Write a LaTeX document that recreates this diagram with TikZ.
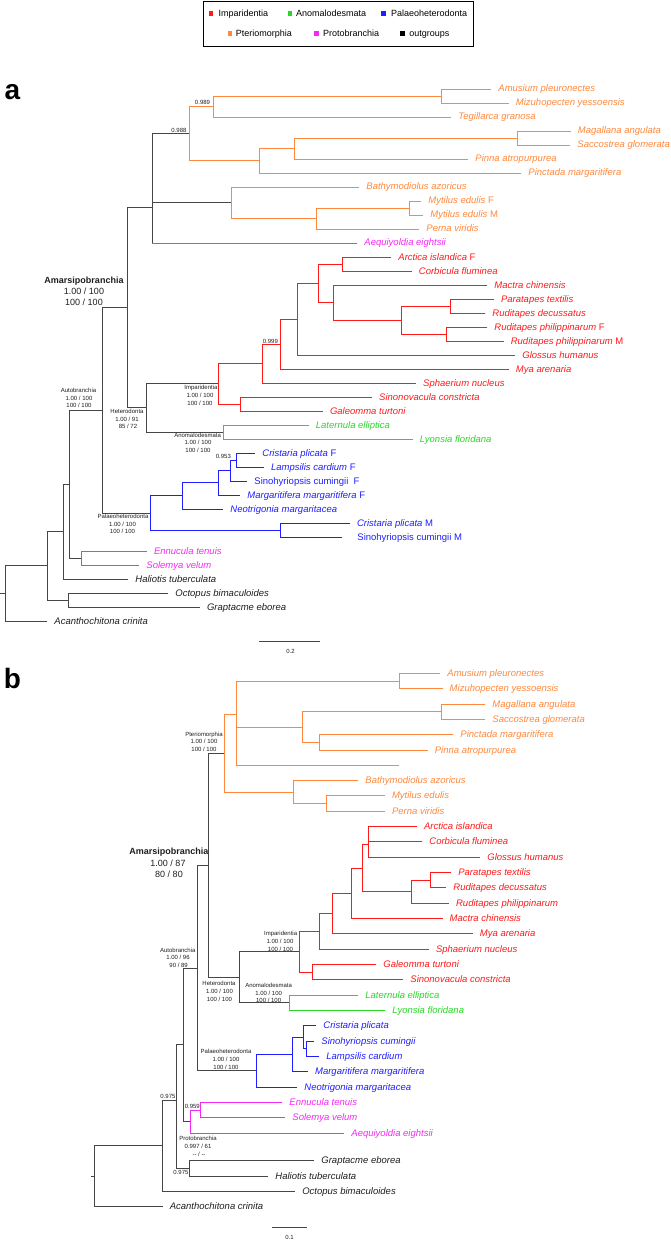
\documentclass[tikz,border=0pt]{standalone}
\usepackage{fontspec}
\setmainfont{Liberation Sans}
\definecolor{cor}{RGB}{255,136,60}
\definecolor{cre}{RGB}{255,25,25}
\definecolor{cgr}{RGB}{40,215,40}
\definecolor{cbl}{RGB}{30,30,255}
\definecolor{cma}{RGB}{245,40,245}
\definecolor{cgy}{RGB}{70,70,70}
\definecolor{cdk}{RGB}{30,30,30}
\newcommand{\tbr}[3]{\draw[#1] (#2) |- (#3);}
\newcommand{\tbrr}[4]{\draw[#1] (#3) -- (#3 |- #4);\draw[#2] (#3 |- #4) -- (#4);}
\begin{document}
\begin{tikzpicture}[x=1pt,y=-1pt,line width=0.85pt,line cap=rect,
 tip/.style={anchor=west,inner xsep=7pt,inner ysep=0pt,font=\fontsize{9.5}{11}\selectfont,text height=6pt,text depth=0pt},
 sl/.style={inner sep=0pt,font=\fontsize{6}{7}\selectfont,text height=4.3pt,text depth=0pt,text=cdk},
 bl/.style={inner sep=0pt,font=\fontsize{9}{10}\selectfont,text height=6.4pt,text depth=0pt,text=cdk},
 lg/.style={anchor=west,inner sep=0pt,font=\fontsize{9}{10}\selectfont,text height=6.5pt,text depth=0pt},
 sq/.style={inner sep=0pt,minimum size=4.5pt},
 panel/.style={anchor=base,inner sep=0pt,font=\fontsize{28}{30}\selectfont\bfseries}]
\useasboundingbox (0,0) rectangle (670,1241);

% ---------------- legend
\node[draw=black,line width=1.5pt,minimum width=270pt,minimum height=45pt,inner sep=0pt] (legend) at (338.3,24.2) {};
\node[sq,fill=cre] (sq1) at (211,13.3) {};
\node[lg] (lg1) at (218.3,13.3) {Imparidentia};
\node[sq,fill=cgr] (sq2) at (290,13.3) {};
\node[lg] (lg2) at (295.7,13.3) {Anomalodesmata};
\node[sq,fill=cbl] (sq3) at (383.3,13.3) {};
\node[lg] (lg3) at (390.7,13.3) {Palaeoheterodonta};
\node[sq,fill=cor] (sq4) at (230,33.3) {};
\node[lg] (lg4) at (235.5,33.3) {Pteriomorphia};
\node[sq,fill=cma] (sq5) at (316.7,33.3) {};
\node[lg] (lg5) at (322.7,33.3) {Protobranchia};
\node[sq,fill=black] (sq6) at (402.3,33.3) {};
\node[lg] (lg6) at (409,33.3) {outgroups};

% ---------------- panel letters
\node[panel] (pa) at (12.4,99.3) {a};
\node[panel] (pb) at (12.4,688.3) {b};

% ================= TREE A
\coordinate (aStub) at (0,593.4);
\coordinate (aroot) at (5.6,593.4);
\coordinate (aOut) at (47,565.8);
\coordinate (aOcGr) at (68.4,600);
\coordinate (aHal) at (63.2,531.5);
\coordinate (aAuto) at (69.7,484.1);
\coordinate (aProto) at (81.2,558);
\coordinate (aAmar) at (102.6,410.2);
\coordinate (aPH) at (127,307.4);
\coordinate (aPter) at (152.6,207);
\coordinate (a988) at (189.3,133.6);
\coordinate (a989) at (213.7,106.5);
\coordinate (aAmMi) at (441.5,96);
\coordinate (aOst) at (259.4,160.75);
\coordinate (aPin) at (294,148.5);
\coordinate (aMaSa) at (517,138);
\coordinate (aMyt) at (231.6,202.75);
\coordinate (aMP) at (316,218.5);
\coordinate (aMyFM) at (409.4,208);
\coordinate (aHet) at (146.6,407.9);
\coordinate (aImp) at (218.8,383.75);
\coordinate (aSiGa) at (240.6,404);
\coordinate (a999) at (262,363.5);
\coordinate (aA1) at (280,344);
\coordinate (aA2) at (297,319.1);
\coordinate (aA3) at (318.4,283.25);
\coordinate (aArCo) at (342,264);
\coordinate (aVen) at (333.3,302.5);
\coordinate (aVen2) at (401.7,320);
\coordinate (aPaRd) at (450,306);
\coordinate (aRp) at (446.6,334);
\coordinate (aAno) at (223.5,432);
\coordinate (aPal) at (150.4,513);
\coordinate (aP1) at (182.5,495.9);
\coordinate (aP2) at (218,482.75);
\coordinate (a953) at (230.8,470.5);
\coordinate (aCrLa) at (236.3,460);
\coordinate (aCrSiM) at (280.8,530);

\node[tip,text=cor] (tAmus) at (491,89) {\textit{Amusium pleuronectes}};
\node[tip,text=cor] (tMizu) at (508.5,103) {\textit{Mizuhopecten yessoensis}};
\node[tip,text=cor] (tTegi) at (451,117) {\textit{Tegillarca granosa}};
\node[tip,text=cor] (tMaga) at (570.5,131) {\textit{Magallana angulata}};
\node[tip,text=cor] (tSacc) at (570,145) {\textit{Saccostrea glomerata}};
\node[tip,text=cor] (tPinn) at (468,159) {\textit{Pinna atropurpurea}};
\node[tip,text=cor] (tPinc) at (521,173) {\textit{Pinctada margaritifera}};
\node[tip,text=cor] (tBath) at (359,187) {\textit{Bathymodiolus azoricus}};
\node[tip,text=cor] (tMyF) at (421,201) {\textit{Mytilus edulis} F};
\node[tip,text=cor] (tMyM) at (423,215) {\textit{Mytilus edulis} M};
\node[tip,text=cor] (tPern) at (419,229) {\textit{Perna viridis}};
\node[tip,text=cma] (tAequ) at (357,243) {\textit{Aequiyoldia eightsii}};
\node[tip,text=cre] (tArct) at (391,257) {\textit{Arctica islandica} F};
\node[tip,text=cre] (tCorb) at (411.5,271) {\textit{Corbicula fluminea}};
\node[tip,text=cre] (tMact) at (487,285) {\textit{Mactra chinensis}};
\node[tip,text=cre] (tPara) at (493.6,299) {\textit{Paratapes textilis}};
\node[tip,text=cre] (tRDec) at (485,313) {\textit{Ruditapes decussatus}};
\node[tip,text=cre] (tRpF) at (487,327) {\textit{Ruditapes philippinarum} F};
\node[tip,text=cre] (tRpM) at (503.4,341) {\textit{Ruditapes philippinarum} M};
\node[tip,text=cre] (tGlos) at (515,355) {\textit{Glossus humanus}};
\node[tip,text=cre] (tMya) at (508.5,369) {\textit{Mya arenaria}};
\node[tip,text=cre] (tSpha) at (415.8,383) {\textit{Sphaerium nucleus}};
\node[tip,text=cre] (tSino) at (371.8,397) {\textit{Sinonovacula constricta}};
\node[tip,text=cre] (tGale) at (322.6,411) {\textit{Galeomma turtoni}};
\node[tip,text=cgr] (tLate) at (308.5,425) {\textit{Laternula elliptica}};
\node[tip,text=cgr] (tLyon) at (412.4,439) {\textit{Lyonsia floridana}};
\node[tip,text=cbl] (tCrF) at (255,453) {\textit{Cristaria plicata} F};
\node[tip,text=cbl] (tLaF) at (263.7,467) {\textit{Lampsilis cardium} F};
\node[tip,text=cbl] (tSiF) at (247,481) {Sinohyriopsis cumingii\ \ F};
\node[tip,text=cbl] (tMaF) at (240,495) {\textit{Margaritifera margaritifera} F};
\node[tip,text=cbl] (tNeot) at (223,509) {\textit{Neotrigonia margaritacea}};
\node[tip,text=cbl] (tCrM) at (349.6,523) {\textit{Cristaria plicata} M};
\node[tip,text=cbl,inner xsep=15pt] (tSiM) at (342,537) {Sinohyriopsis cumingii M};
\node[tip,text=cma] (tEnnu) at (146.6,551) {\textit{Ennucula tenuis}};
\node[tip,text=cma] (tSole) at (139,565) {\textit{Solemya velum}};
\node[tip,text=cdk] (tHali) at (128,579) {\textit{Haliotis tuberculata}};
\node[tip,text=cdk] (tOcto) at (168,593) {\textit{Octopus bimaculoides}};
\node[tip,text=cdk] (tGrap) at (199.6,607) {\textit{Graptacme eborea}};
\node[tip,text=cdk] (tAcan) at (47,621) {\textit{Acanthochitona crinita}};

\draw[cgy] (aStub) -- (aroot);
\tbr{cgy}{aroot}{aOut} \tbr{cgy}{aroot}{tAcan.west}
\tbr{cgy}{aOut}{aHal} \tbr{cgy}{aOut}{aOcGr}
\tbr{cgy}{aOcGr}{tOcto.west} \tbr{cgy}{aOcGr}{tGrap.west}
\tbr{cgy}{aHal}{aAuto} \tbr{cgy}{aHal}{tHali.west}
\tbr{cgy}{aAuto}{aAmar} \tbr{cgy}{aAuto}{aProto}
\tbr{cma}{aProto}{tEnnu.west} \tbr{cma}{aProto}{tSole.west}
\tbr{cgy}{aAmar}{aPH} \tbr{cgy}{aAmar}{aPal}
\tbr{cgy}{aPH}{aPter} \tbr{cgy}{aPH}{aHet}
\tbr{cgy}{aPter}{a988} \tbr{cgy}{aPter}{aMyt} \tbrr{cgy}{cma}{aPter}{tAequ.west}
\tbr{cor}{a988}{a989} \tbr{cor}{a988}{aOst}
\tbr{cor}{a989}{aAmMi} \tbr{cor}{a989}{tTegi.west}
\tbr{cor}{aAmMi}{tAmus.west} \tbr{cor}{aAmMi}{tMizu.west}
\tbr{cor}{aOst}{aPin} \tbr{cor}{aOst}{tPinc.west}
\tbr{cor}{aPin}{aMaSa} \tbr{cor}{aPin}{tPinn.west}
\tbr{cor}{aMaSa}{tMaga.west} \tbr{cor}{aMaSa}{tSacc.west}
\tbr{cor}{aMyt}{tBath.west} \tbr{cor}{aMyt}{aMP}
\tbr{cor}{aMP}{aMyFM} \tbr{cor}{aMP}{tPern.west}
\tbr{cor}{aMyFM}{tMyF.west} \tbr{cor}{aMyFM}{tMyM.west}
\tbr{cgy}{aHet}{aImp} \tbr{cgy}{aHet}{aAno}
\tbr{cre}{aImp}{a999} \tbr{cre}{aImp}{aSiGa}
\tbr{cre}{aSiGa}{tSino.west} \tbr{cre}{aSiGa}{tGale.west}
\tbr{cre}{a999}{aA1} \tbr{cre}{a999}{tSpha.west}
\tbr{cre}{aA1}{aA2} \tbr{cre}{aA1}{tMya.west}
\tbr{cre}{aA2}{aA3} \tbr{cre}{aA2}{tGlos.west}
\tbr{cre}{aA3}{aArCo} \tbr{cre}{aA3}{aVen}
\tbr{cre}{aArCo}{tArct.west} \tbr{cre}{aArCo}{tCorb.west}
\tbr{cre}{aVen}{tMact.west} \tbr{cre}{aVen}{aVen2}
\tbr{cre}{aVen2}{aPaRd} \tbr{cre}{aVen2}{aRp}
\tbr{cre}{aPaRd}{tPara.west} \tbr{cre}{aPaRd}{tRDec.west}
\tbr{cre}{aRp}{tRpF.west} \tbr{cre}{aRp}{tRpM.west}
\tbr{cgr}{aAno}{tLate.west} \tbr{cgr}{aAno}{tLyon.west}
\tbr{cbl}{aPal}{aP1} \tbr{cbl}{aPal}{aCrSiM}
\tbr{cbl}{aP1}{aP2} \tbr{cbl}{aP1}{tNeot.west}
\tbr{cbl}{aP2}{a953} \tbr{cbl}{aP2}{tMaF.west}
\tbr{cbl}{a953}{aCrLa} \tbr{cbl}{a953}{tSiF.west}
\tbr{cbl}{aCrLa}{tCrF.west} \tbr{cbl}{aCrLa}{tLaF.west}
\tbr{cbl}{aCrSiM}{tCrM.west} \tbr{cbl}{aCrSiM}{tSiM.west}

% support values tree a
\node[sl] (l989) at (202.5,102.7) {0.989};
\node[sl] (l988) at (179,130.7) {0.988};
\node[sl] (l999) at (270.4,341) {0.999};
\node[sl] (l953) at (223.4,456.7) {0.953};
\node[bl,font=\fontsize{9}{10}\selectfont\bfseries] (aAm1) at (84,280) {Amarsipobranchia};
\node[bl] (aAm2) at (84,291.7) {1.00 / 100};
\node[bl] (aAm3) at (84,302.7) {100 / 100};
\node[sl] (aAu1) at (78.5,390.7) {Autobranchia};
\node[sl] (aAu2) at (79,398.2) {1.00 / 100};
\node[sl] (aAu3) at (79,405.7) {100 / 100};
\node[sl] (aHe1) at (127,411.5) {Heterodonta};
\node[sl] (aHe2) at (127,419) {1.00 / 91};
\node[sl] (aHe3) at (128,426.5) {85 / 72};
\node[sl] (aIm1) at (201,387) {Imparidentia};
\node[sl] (aIm2) at (200,395.2) {1.00 / 100};
\node[sl] (aIm3) at (200,403.3) {100 / 100};
\node[sl] (aAn1) at (197.6,435) {Anomalodesmata};
\node[sl] (aAn2) at (198,442.7) {1.00 / 100};
\node[sl] (aAn3) at (198,450.7) {100 / 100};
\node[sl] (aPa1) at (123,516.7) {Palaeoheterodonta};
\node[sl] (aPa2) at (122.5,524.2) {1.00 / 100};
\node[sl] (aPa3) at (122.5,531.7) {100 / 100};

% scale bar a
\coordinate (sa1) at (259.4,641.7);
\coordinate (sa2) at (319.7,641.7);
\draw[cgy] (sa1) -- (sa2);
\node[sl] (sal) at (290.6,651) {0.2};

% ================= TREE B
\coordinate (bStub) at (91,1176.2);
\coordinate (bRoot) at (94.9,1176.2);
\coordinate (bMoll2) at (162.4,1145.7);
\coordinate (bMoll) at (176,1100);
\coordinate (bGrHa) at (189.3,1168.35);
\coordinate (bAuto) at (183,1044.9);
\coordinate (bProto) at (190.7,1121.7);
\coordinate (bEnSo) at (200,1110.2);
\coordinate (bAmar) at (197.4,968);
\coordinate (bPH) at (208,865.2);
\coordinate (bPter) at (224.4,753);
\coordinate (bPect) at (236.3,714);
\coordinate (bAmMi) at (399.6,681);
\coordinate (bOst) at (302.6,727);
\coordinate (bMaSa) at (441.5,711.65);
\coordinate (bPiPi) at (319.7,742.3);
\coordinate (bEmpty) at (398.3,765.3);
\coordinate (bMyt) at (293.6,792.1);
\coordinate (bMyPe) at (326,803.6);
\coordinate (bHet) at (239.3,977.35);
\coordinate (bImp) at (299.1,951.8);
\coordinate (bGaSi) at (312,972.25);
\coordinate (bV4) at (319.7,931.4);
\coordinate (bV3) at (332.5,913.6);
\coordinate (bV2) at (351.7,893.3);
\coordinate (bV1) at (362,868);
\coordinate (bArCoGl) at (368.4,844);
\coordinate (bVenA) at (411,891.8);
\coordinate (bPaRd) at (430.8,880.25);
\coordinate (bAno) at (289.7,1002.9);
\coordinate (bPal) at (256.4,1070.9);
\coordinate (bUn) at (292.7,1054.65);
\coordinate (bCr) at (303.4,1037.4);
\coordinate (bSiLa) at (306.8,1048.9);

\node[tip,text=cor] (bAmus) at (440,673.3) {\textit{Amusium pleuronectes}};
\node[tip,text=cor] (bMizu) at (442.3,688.6) {\textit{Mizuhopecten yessoensis}};
\node[tip,text=cor] (bMaga) at (485,704) {\textit{Magallana angulata}};
\node[tip,text=cor] (bSacc) at (485,719.3) {\textit{Saccostrea glomerata}};
\node[tip,text=cor] (bPinc) at (453,734.6) {\textit{Pinctada margaritifera}};
\node[tip,text=cor] (bPinn) at (427.4,750) {\textit{Pinna atropurpurea}};
\node[tip,text=cor] (bBath) at (358,780.6) {\textit{Bathymodiolus azoricus}};
\node[tip,text=cor] (bMyti) at (384.6,795.9) {\textit{Mytilus edulis}};
\node[tip,text=cor] (bPern) at (384.6,811.3) {\textit{Perna viridis}};
\node[tip,text=cre] (bArct) at (416.7,826.6) {\textit{Arctica islandica}};
\node[tip,text=cre] (bCorb) at (422,841.9) {\textit{Corbicula fluminea}};
\node[tip,text=cre] (bGlos) at (480,857.3) {\textit{Glossus humanus}};
\node[tip,text=cre] (bPara) at (450.9,872.6) {\textit{Paratapes textilis}};
\node[tip,text=cre] (bRDec) at (446,887.9) {\textit{Ruditapes decussatus}};
\node[tip,text=cre] (bRPhi) at (448.7,903.3) {\textit{Ruditapes philippinarum}};
\node[tip,text=cre] (bMact) at (442.3,918.6) {\textit{Mactra chinensis}};
\node[tip,text=cre] (bMya) at (472.5,933.9) {\textit{Mya arenaria}};
\node[tip,text=cre] (bSpha) at (428.6,949.2) {\textit{Sphaerium nucleus}};
\node[tip,text=cre] (bGale) at (376,964.6) {\textit{Galeomma turtoni}};
\node[tip,text=cre] (bSino) at (403,979.9) {\textit{Sinonovacula constricta}};
\node[tip,text=cgr] (bLate) at (358,995.2) {\textit{Laternula elliptica}};
\node[tip,text=cgr] (bLyon) at (385,1010.6) {\textit{Lyonsia floridana}};
\node[tip,text=cbl] (bCris) at (316,1025.9) {\textit{Cristaria plicata}};
\node[tip,text=cbl] (bSinh) at (314,1041.2) {\textit{Sinohyriopsis cumingii}};
\node[tip,text=cbl] (bLamp) at (319,1056.6) {\textit{Lampsilis cardium}};
\node[tip,text=cbl] (bMarg) at (307.7,1071.9) {\textit{Margaritifera margaritifera}};
\node[tip,text=cbl] (bNeot) at (297,1087.2) {\textit{Neotrigonia margaritacea}};
\node[tip,text=cma] (bEnnu) at (282,1102.5) {\textit{Ennucula tenuis}};
\node[tip,text=cma] (bSole) at (285,1117.9) {\textit{Solemya velum}};
\node[tip,text=cma] (bAequ) at (344,1133.2) {\textit{Aequiyoldia eightsii}};
\node[tip,text=cdk] (bGrap) at (314,1160.7) {\textit{Graptacme eborea}};
\node[tip,text=cdk] (bHali) at (268,1176) {\textit{Haliotis tuberculata}};
\node[tip,text=cdk] (bOcto) at (294.9,1191.4) {\textit{Octopus bimaculoides}};
\node[tip,text=cdk] (bAcan) at (162.4,1206.7) {\textit{Acanthochitona crinita}};

\draw[cgy] (bStub) -- (bRoot);
\tbr{cgy}{bRoot}{bMoll2} \tbr{cgy}{bRoot}{bAcan.west}
\tbr{cgy}{bMoll2}{bMoll} \tbr{cgy}{bMoll2}{bOcto.west}
\tbr{cgy}{bMoll}{bAuto} \tbr{cgy}{bMoll}{bGrHa}
\tbr{cgy}{bGrHa}{bGrap.west} \tbr{cgy}{bGrHa}{bHali.west}
\tbr{cgy}{bAuto}{bAmar} \tbr{cgy}{bAuto}{bProto}
\tbr{cma}{bProto}{bEnSo} \tbr{cma}{bProto}{bAequ.west}
\tbr{cma}{bEnSo}{bEnnu.west} \tbr{cma}{bEnSo}{bSole.west}
\tbr{cgy}{bAmar}{bPH} \tbr{cgy}{bAmar}{bPal}
\tbr{cgy}{bPH}{bPter} \tbr{cgy}{bPH}{bHet}
\tbr{cor}{bPter}{bPect} \tbr{cor}{bPter}{bMyt}
\tbr{cor}{bPect}{bAmMi} \tbr{cor}{bPect}{bOst} \tbr{cor}{bPect}{bEmpty}
\tbr{cor}{bAmMi}{bAmus.west} \tbr{cor}{bAmMi}{bMizu.west}
\tbr{cor}{bOst}{bMaSa} \tbr{cor}{bOst}{bPiPi}
\tbr{cor}{bMaSa}{bMaga.west} \tbr{cor}{bMaSa}{bSacc.west}
\tbr{cor}{bPiPi}{bPinc.west} \tbr{cor}{bPiPi}{bPinn.west}
\tbr{cor}{bMyt}{bBath.west} \tbr{cor}{bMyt}{bMyPe}
\tbr{cor}{bMyPe}{bMyti.west} \tbr{cor}{bMyPe}{bPern.west}
\tbr{cgy}{bHet}{bImp} \tbr{cgy}{bHet}{bAno}
\tbr{cre}{bImp}{bV4} \tbr{cre}{bImp}{bGaSi}
\tbr{cre}{bGaSi}{bGale.west} \tbr{cre}{bGaSi}{bSino.west}
\tbr{cre}{bV4}{bV3} \tbr{cre}{bV4}{bSpha.west}
\tbr{cre}{bV3}{bV2} \tbr{cre}{bV3}{bMya.west}
\tbr{cre}{bV2}{bV1} \tbr{cre}{bV2}{bMact.west}
\tbr{cre}{bV1}{bArCoGl} \tbr{cre}{bV1}{bVenA}
\tbr{cre}{bArCoGl}{bArct.west} \tbr{cre}{bArCoGl}{bCorb.west} \tbr{cre}{bArCoGl}{bGlos.west}
\tbr{cre}{bVenA}{bPaRd} \tbr{cre}{bVenA}{bRPhi.west}
\tbr{cre}{bPaRd}{bPara.west} \tbr{cre}{bPaRd}{bRDec.west}
\tbr{cgr}{bAno}{bLate.west} \tbr{cgr}{bAno}{bLyon.west}
\tbr{cbl}{bPal}{bUn} \tbr{cbl}{bPal}{bNeot.west}
\tbr{cbl}{bUn}{bCr} \tbr{cbl}{bUn}{bMarg.west}
\tbr{cbl}{bCr}{bCris.west} \tbr{cbl}{bCr}{bSiLa}
\tbr{cbl}{bSiLa}{bSinh.west} \tbr{cbl}{bSiLa}{bLamp.west}

% support values tree b
\node[sl] (bPt1) at (204,734) {Pteriomorphia};
\node[sl] (bPt2) at (204,741.7) {1.00 / 100};
\node[sl] (bPt3) at (204,749.3) {100 / 100};
\node[bl,font=\fontsize{9}{10}\selectfont\bfseries] (bAm1) at (168.8,851.7) {Amarsipobranchia};
\node[bl] (bAm2) at (168,863.3) {1.00 / 87};
\node[bl] (bAm3) at (169,874.5) {80 / 80};
\node[sl] (bAu1) at (177.8,950) {Autobranchia};
\node[sl] (bAu2) at (178,957.5) {1.00 / 96};
\node[sl] (bAu3) at (178.6,965) {90 / 89};
\node[sl] (bIm1) at (280.6,933.3) {Imparidentia};
\node[sl] (bIm2) at (280,941) {1.00 / 100};
\node[sl] (bIm3) at (280.5,949) {100 / 100};
\node[sl] (bHe1) at (219,983.3) {Heterodonta};
\node[sl] (bHe2) at (219.5,991.3) {1.00 / 100};
\node[sl] (bHe3) at (219.5,999) {100 / 100};
\node[sl] (bAn1) at (268.6,985.7) {Anomalodesmata};
\node[sl] (bAn2) at (268.6,992.9) {1.00 / 100};
\node[sl] (bAn3) at (268.6,1000.2) {100 / 100};
\node[sl] (bPa1) at (226,1051.7) {Palaeoheterodonta};
\node[sl] (bPa2) at (226,1059.3) {1.00 / 100};
\node[sl] (bPa3) at (226,1067.3) {100 / 100};
\node[sl] (bPr1) at (198,1138.7) {Protobranchia};
\node[sl] (bPr2) at (198,1146.2) {0.997 / 61};
\node[sl] (bPr3) at (199,1154) {-{}- / -{}-};
\node[sl] (l959) at (192.3,1106.7) {0.959};
\node[sl] (l975a) at (168,1096.7) {0.975};
\node[sl] (l975b) at (181,1172.3) {0.975};

% scale bar b
\coordinate (sb1) at (272.6,1227.7);
\coordinate (sb2) at (306.4,1227.7);
\draw[cgy] (sb1) -- (sb2);
\node[sl] (sbl) at (289.5,1237) {0.1};
\end{tikzpicture}
\end{document}
